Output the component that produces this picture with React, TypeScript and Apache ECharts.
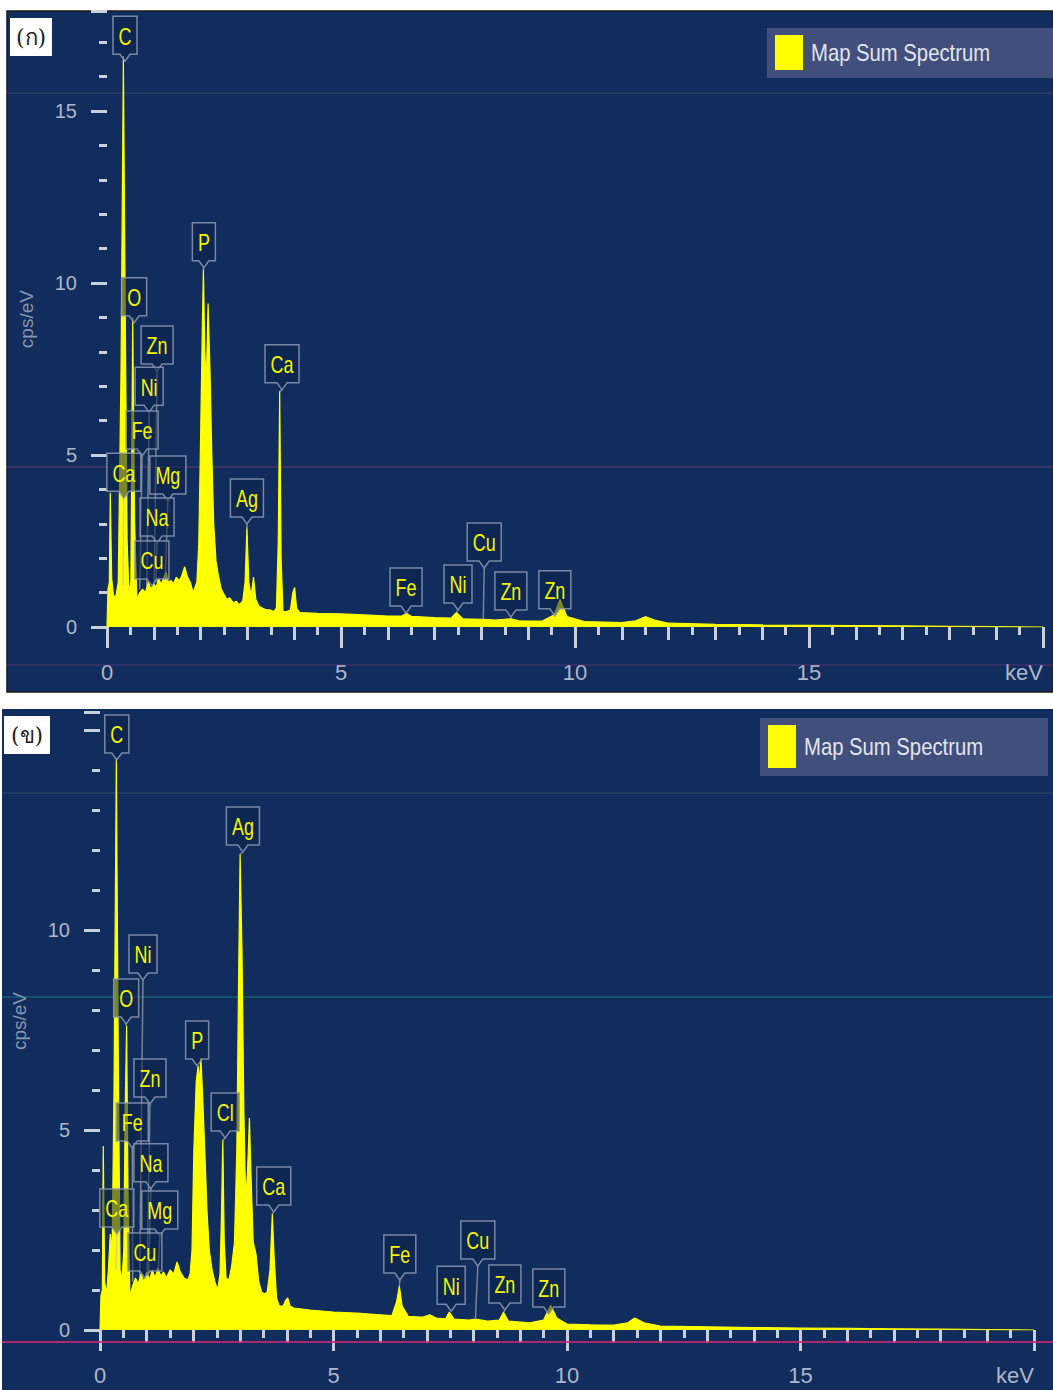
import React, { useEffect, useRef } from "react";
import * as echarts from "echarts";

// ---------- data ----------
const X_TICK_LABELS = ["0", "5", "10", "15", "keV"];
const Y_TICK_LABELS_A = ["0", "5", "10", "15"];
const Y_TICK_LABELS_B = ["0", "5", "10"];
const Y_NAME = "cps/eV";
const LEGEND_TEXT = "Map Sum Spectrum";
const PANEL_TAGS = ["(ก)", "(ข)"];

// [keV, cps] — panel (ก)
const spectrumA: [number, number][] = [
  [0.0, 0.0], [0.02, 1.1], [0.05, 1.3], [0.07, 3.9], [0.1, 1.4], [0.14, 0.9], [0.19, 0.9],
  [0.24, 1.3], [0.3, 7.5], [0.35, 16.6], [0.39, 9.0], [0.43, 2.5], [0.47, 1.0], [0.51, 1.3],
  [0.55, 9.0], [0.59, 3.0], [0.64, 0.8], [0.7, 1.0], [0.76, 1.1], [0.82, 1.0], [0.88, 1.3],
  [0.94, 1.1], [1.0, 1.25], [1.05, 1.15], [1.1, 1.4], [1.16, 1.25], [1.22, 1.45], [1.26, 1.6],
  [1.31, 1.3], [1.37, 1.35], [1.42, 1.25], [1.48, 1.45], [1.55, 1.35], [1.6, 1.5], [1.66, 1.75],
  [1.72, 1.45], [1.78, 1.3], [1.84, 1.0], [1.92, 1.3], [1.96, 2.4], [2.0, 5.5], [2.04, 9.0],
  [2.06, 10.4], [2.09, 8.0], [2.12, 7.0], [2.16, 9.4], [2.2, 7.5], [2.24, 5.0], [2.28, 3.0],
  [2.33, 1.9], [2.38, 1.5], [2.44, 1.1], [2.5, 0.95], [2.56, 0.8], [2.62, 0.85], [2.7, 0.7],
  [2.76, 0.75], [2.82, 0.65], [2.9, 0.75], [2.95, 1.3], [2.99, 2.9], [3.03, 1.3], [3.08, 0.9],
  [3.13, 1.45], [3.18, 0.8], [3.25, 0.6], [3.32, 0.55], [3.4, 0.5], [3.48, 0.5], [3.56, 0.45],
  [3.62, 0.55], [3.66, 2.5], [3.69, 6.85], [3.72, 2.0], [3.76, 0.45], [3.84, 0.45], [3.92, 0.5],
  [3.97, 1.0], [4.01, 1.15], [4.05, 0.55], [4.12, 0.42], [4.5, 0.4], [5.0, 0.38], [5.5, 0.35],
  [6.0, 0.32], [6.3, 0.32], [6.4, 0.4], [6.5, 0.31], [7.0, 0.27], [7.35, 0.26], [7.47, 0.42],
  [7.6, 0.24], [8.04, 0.22], [8.3, 0.2], [8.63, 0.24], [8.8, 0.18], [9.3, 0.17], [9.55, 0.35],
  [9.68, 0.8], [9.83, 0.3], [10.2, 0.16], [11.0, 0.13], [11.3, 0.18], [11.5, 0.3], [11.7, 0.2],
  [12.0, 0.11], [13.0, 0.08], [14.0, 0.06], [15.0, 0.05], [16.0, 0.04], [17.0, 0.03],
  [18.0, 0.02], [19.0, 0.01], [20.0, 0.0],
];

// [keV, cps] — panel (ข)
const spectrumB: [number, number][] = [
  [0.0, 0.0], [0.02, 0.85], [0.05, 1.0], [0.07, 4.6], [0.1, 1.2], [0.14, 0.9], [0.18, 1.5],
  [0.22, 2.4], [0.26, 2.0], [0.3, 6.0], [0.35, 14.3], [0.39, 7.0], [0.43, 1.5], [0.47, 1.25],
  [0.51, 2.0], [0.54, 5.6], [0.57, 7.6], [0.6, 3.5], [0.64, 0.85], [0.7, 1.1], [0.76, 1.3],
  [0.82, 1.15], [0.88, 1.4], [0.94, 1.2], [1.0, 1.45], [1.06, 1.25], [1.12, 1.5], [1.18, 1.3],
  [1.24, 1.55], [1.3, 1.35], [1.36, 1.45], [1.42, 1.3], [1.5, 1.5], [1.58, 1.4], [1.65, 1.7],
  [1.72, 1.45], [1.8, 1.3], [1.88, 1.25], [1.93, 1.4], [1.97, 2.0], [2.01, 4.5], [2.06, 6.2],
  [2.1, 6.6], [2.13, 6.2], [2.16, 6.8], [2.2, 5.8], [2.25, 4.3], [2.29, 3.0], [2.34, 2.0],
  [2.4, 1.5], [2.46, 1.2], [2.52, 1.0], [2.57, 1.4], [2.6, 2.8], [2.63, 4.75], [2.66, 2.2],
  [2.7, 1.3], [2.76, 1.25], [2.82, 1.6], [2.88, 2.2], [2.93, 4.5], [2.97, 9.0], [3.0, 11.9],
  [3.04, 9.5], [3.08, 5.5], [3.12, 3.2], [3.16, 4.0], [3.2, 5.3], [3.23, 4.0], [3.28, 2.2],
  [3.34, 1.9], [3.4, 1.2], [3.46, 0.95], [3.52, 0.9], [3.58, 0.95], [3.64, 1.5], [3.69, 2.9],
  [3.73, 1.8], [3.78, 0.8], [3.84, 0.6], [3.92, 0.6], [3.98, 0.75], [4.02, 0.8], [4.07, 0.6],
  [4.15, 0.55], [4.5, 0.5], [5.0, 0.45], [5.5, 0.42], [6.0, 0.38], [6.25, 0.36], [6.35, 0.7],
  [6.41, 1.1], [6.47, 0.6], [6.6, 0.34], [6.9, 0.32], [7.06, 0.38], [7.2, 0.3], [7.4, 0.28],
  [7.48, 0.45], [7.58, 0.27], [7.9, 0.25], [8.04, 0.27], [8.3, 0.22], [8.55, 0.25],
  [8.64, 0.44], [8.75, 0.22], [9.2, 0.18], [9.5, 0.25], [9.65, 0.62], [9.78, 0.3], [10.0, 0.15],
  [10.5, 0.13], [11.0, 0.12], [11.3, 0.18], [11.45, 0.3], [11.65, 0.18], [12.0, 0.1],
  [13.0, 0.08], [14.0, 0.06], [15.0, 0.05], [16.0, 0.04], [17.0, 0.03], [18.0, 0.02],
  [19.0, 0.01], [20.0, 0.0],
];

// element label: [name, label keV, label cps, peak keV, peak cps]
const peaksA: [string, number, number, number, number][] = [
  ["C", 0.385, 17.2, 0.37, 16.6],
  ["O", 0.58, 9.6, 0.56, 9.0],
  ["Zn", 1.07, 8.2, 1.01, 1.3],
  ["Ni", 0.9, 7.0, 0.85, 1.2],
  ["Fe", 0.75, 5.73, 0.7, 1.1],
  ["Ca", 0.36, 4.5, 0.34, 1.2],
  ["Mg", 1.3, 4.42, 1.25, 1.6],
  ["Na", 1.07, 3.2, 1.04, 1.3],
  ["Cu", 0.96, 1.95, 0.93, 1.2],
  ["P", 2.07, 11.2, 2.06, 10.4],
  ["Ca", 3.74, 7.65, 3.69, 6.85],
  ["Ag", 2.99, 3.75, 2.99, 2.9],
  ["Fe", 6.39, 1.16, 6.4, 0.38],
  ["Ni", 7.5, 1.25, 7.47, 0.42],
  ["Cu", 8.06, 2.47, 8.04, 0.22],
  ["Zn", 8.63, 1.05, 8.63, 0.24],
  ["Zn", 9.57, 1.08, 9.65, 0.8],
];

const peaksB: [string, number, number, number, number][] = [
  ["C", 0.36, 14.9, 0.35, 14.3],
  ["Ni", 0.92, 9.4, 0.85, 1.3],
  ["O", 0.56, 8.3, 0.57, 7.6],
  ["Ag", 3.06, 12.6, 3.0, 11.9],
  ["P", 2.08, 7.25, 2.1, 6.7],
  ["Zn", 1.07, 6.3, 1.01, 1.4],
  ["Fe", 0.69, 5.2, 0.7, 1.2],
  ["Cl", 2.68, 5.45, 2.63, 4.75],
  ["Na", 1.09, 4.18, 1.04, 1.4],
  ["Ca", 0.36, 3.05, 0.34, 1.5],
  ["Mg", 1.28, 3.0, 1.25, 1.5],
  ["Cu", 0.96, 1.95, 0.93, 1.3],
  ["Ca", 3.72, 3.6, 3.69, 2.9],
  ["Fe", 6.42, 1.9, 6.41, 1.1],
  ["Cu", 8.09, 2.25, 8.04, 0.3],
  ["Ni", 7.52, 1.12, 7.48, 0.45],
  ["Zn", 8.67, 1.15, 8.64, 0.44],
  ["Zn", 9.61, 1.05, 9.65, 0.62],
];

// ---------- styles ----------
const SANS = '"Liberation Sans", Arial, sans-serif';
const LABEL_FONT = `23px ${SANS}`;
const LABEL_SCALE = 0.78;
const LEGEND_FONT = `24px ${SANS}`;
const LEGEND_SCALE = 0.845;
const BG = "#102d5e";
const YELLOW = "#ffff00";
const AXIS_TEXT = "#aeb6c8";
const TICK = "#c9d0dc";

let measureCtx: CanvasRenderingContext2D | null = null;
function textWidth(s: string, font: string): number {
  if (!measureCtx) measureCtx = document.createElement("canvas").getContext("2d");
  if (!measureCtx) return s.length * 11;
  measureCtx.font = font;
  return measureCtx.measureText(s).width;
}

function makeLabelRenderer(list: [string, number, number, number, number][]) {
  return (params: any, api: any) => {
    const item = list[params.dataIndex];
    const c = api.coord([api.value(0), api.value(1)]);
    const t = api.coord([api.value(2), api.value(3)]);
    const w = Math.round(textWidth(item[0], LABEL_FONT) * LABEL_SCALE) + 11;
    const h = 38;
    const x0 = c[0] - w / 2;
    const y0 = c[1] - h / 2;
    const y1 = c[1] + h / 2;
    const vTip = y1 + 7;
    const pts = [
      [x0, y0], [x0 + w, y0], [x0 + w, y1], [c[0] + 5, y1], [c[0], vTip], [c[0] - 5, y1], [x0, y1],
    ];
    const children: any[] = [];
    if (t[1] > vTip + 1) {
      children.push({
        type: "line",
        shape: { x1: c[0], y1: vTip, x2: t[0], y2: t[1] },
        style: { stroke: "rgba(190,190,170,0.6)", lineWidth: 1.5 },
      });
    }
    children.push({
      type: "polygon",
      shape: { points: pts },
      style: { fill: "rgba(12,34,72,0.55)", stroke: "rgba(140,152,178,0.85)", lineWidth: 1.5 },
    });
    children.push({
      type: "text",
      x: c[0],
      y: c[1] + 1,
      scaleX: LABEL_SCALE,
      style: { text: item[0], fill: "#f4f400", font: LABEL_FONT, align: "center", verticalAlign: "middle" },
    });
    return { type: "group", children };
  };
}

function xAxes(gridIndex: number) {
  return [
    {
      type: "value", gridIndex, position: "bottom", min: 0, max: 20, interval: 1, offset: 4,
      axisLine: { show: false },
      axisTick: { show: true, length: 13, lineStyle: { color: TICK, width: 3 } },
      minorTick: { show: true, splitNumber: 2, length: 8, lineStyle: { color: TICK, width: 3 } },
      axisLabel: { show: false },
      splitLine: { show: false },
    },
    {
      type: "value", gridIndex, position: "bottom", min: 0, max: 20, interval: 5, offset: 4,
      axisLine: { show: false },
      axisTick: { show: true, length: 21, lineStyle: { color: TICK, width: 3 } },
      axisLabel: {
        show: true, margin: 30, fontSize: 22, color: AXIS_TEXT, fontFamily: SANS,
        alignMaxLabel: "right",
        formatter: (v: number) => X_TICK_LABELS[Math.round(v / 5)] ?? "",
      },
      splitLine: { show: false },
    },
  ];
}

function yAxes(gridIndex: number, max: number, labels: string[]) {
  return [
    {
      type: "value", gridIndex, position: "left", min: 0, max, interval: 1, offset: 9,
      axisLine: { show: false },
      axisTick: { show: true, length: 8, lineStyle: { color: TICK, width: 3 } },
      axisLabel: { show: false },
      splitLine: { show: false },
    },
    {
      type: "value", gridIndex, position: "left", min: 0, max, interval: 5, offset: 9,
      name: Y_NAME, nameLocation: "middle", nameRotate: 90, nameGap: 62,
      nameTextStyle: { color: "#8a96b0", fontSize: 19, fontFamily: SANS },
      axisLine: { show: false },
      axisTick: { show: true, length: 16, lineStyle: { color: TICK, width: 3 } },
      axisLabel: {
        show: true, margin: 21, fontSize: 20, color: AXIS_TEXT, fontFamily: SANS,
        formatter: (v: number) => labels[Math.round(v / 5)] ?? "",
      },
      splitLine: { show: false },
    },
  ];
}

function legend(x: number, y: number, w: number, h: number) {
  return [
    { type: "rect", z: 100, shape: { x, y, width: w, height: h }, style: { fill: "#414f7d" } },
    { type: "rect", z: 101, shape: { x: x + 8, y: y + 7, width: 28, height: h - 15 }, style: { fill: YELLOW } },
    {
      type: "text", z: 101, x: x + 44, y: y + h / 2, scaleX: LEGEND_SCALE,
      style: { text: LEGEND_TEXT, fill: "#e2e5ec", font: LEGEND_FONT, verticalAlign: "middle" },
    },
  ];
}

function tag(x: number, y: number, w: number, h: number, text: string) {
  return [
    { type: "rect", z: 100, shape: { x, y, width: w, height: h }, style: { fill: "#ffffff" } },
    {
      type: "text", z: 101, x: x + w / 2, y: y + h / 2,
      style: { text, fill: "#222", font: '22px "DejaVu Serif", serif', align: "center", verticalAlign: "middle" },
    },
  ];
}

function hline(y: number, x1: number, x2: number, stroke: string, lineWidth = 1.5) {
  return { type: "line", z: 1, shape: { x1, y1: y, x2, y2: y }, style: { stroke, lineWidth } };
}

export default function App() {
  const ref = useRef<HTMLDivElement>(null);
  useEffect(() => {
    if (!ref.current) return;
    const chart = echarts.init(ref.current, undefined, { renderer: "svg" });
    const lineSeries = (xi: number, yi: number, data: [number, number][]) => ({
      type: "line", name: LEGEND_TEXT, xAxisIndex: xi, yAxisIndex: yi, data,
      showSymbol: false, symbol: "none", z: 3,
      lineStyle: { color: YELLOW, width: 1.2 },
      areaStyle: { color: YELLOW, opacity: 1 },
    });
    const labelSeries = (xi: number, yi: number, list: [string, number, number, number, number][]) => ({
      type: "custom", xAxisIndex: xi, yAxisIndex: yi, z: 5, clip: false,
      data: list.map((p) => [p[1], p[2], p[3], p[4]]),
      renderItem: makeLabelRenderer(list),
    });
    chart.setOption({
      animation: false,
      backgroundColor: "#ffffff",
      grid: [
        { left: 107, right: 10, top: 11.2, bottom: 763, containLabel: false, outerBoundsMode: "none" },
        { left: 100, right: 19, top: 712, bottom: 60, containLabel: false, outerBoundsMode: "none" },
      ],
      xAxis: [...xAxes(0), ...xAxes(1)],
      yAxis: [...yAxes(0, 17.9, Y_TICK_LABELS_A), ...yAxes(1, 15.45, Y_TICK_LABELS_B)],
      graphic: {
        elements: [
          { type: "rect", z: 0, shape: { x: 7, y: 11, width: 1046, height: 681 }, style: { fill: BG, stroke: "#1a1a1a", lineWidth: 1.5 } },
          { type: "rect", z: 0, shape: { x: 2, y: 709, width: 1051, height: 681 }, style: { fill: BG } },
          hline(93, 7, 1053, "rgba(170,120,150,0.22)"),
          hline(467, 7, 1053, "rgba(180,70,130,0.35)"),
          hline(665, 7, 1053, "rgba(170,60,120,0.3)"),
          hline(793, 2, 1053, "rgba(130,150,160,0.18)"),
          hline(997, 2, 1053, "rgba(30,150,130,0.45)"),
          hline(1342, 2, 1053, "rgba(200,40,110,0.85)", 2),
          ...legend(767, 28, 286, 50),
          ...legend(760, 718, 288, 58),
          ...tag(10, 18, 42, 38, PANEL_TAGS[0]),
          ...tag(4, 716, 46, 38, PANEL_TAGS[1]),
        ],
      },
      series: [
        lineSeries(0, 0, spectrumA),
        labelSeries(0, 0, peaksA),
        lineSeries(2, 2, spectrumB),
        labelSeries(2, 2, peaksB),
      ],
    });
    return () => chart.dispose();
  }, []);
  return (
    <div style={{ position: "absolute", left: 0, top: 0, width: 1053, height: 1390, background: "#fff" }}>
      <div ref={ref} style={{ width: 1053, height: 1390 }} />
    </div>
  );
}
